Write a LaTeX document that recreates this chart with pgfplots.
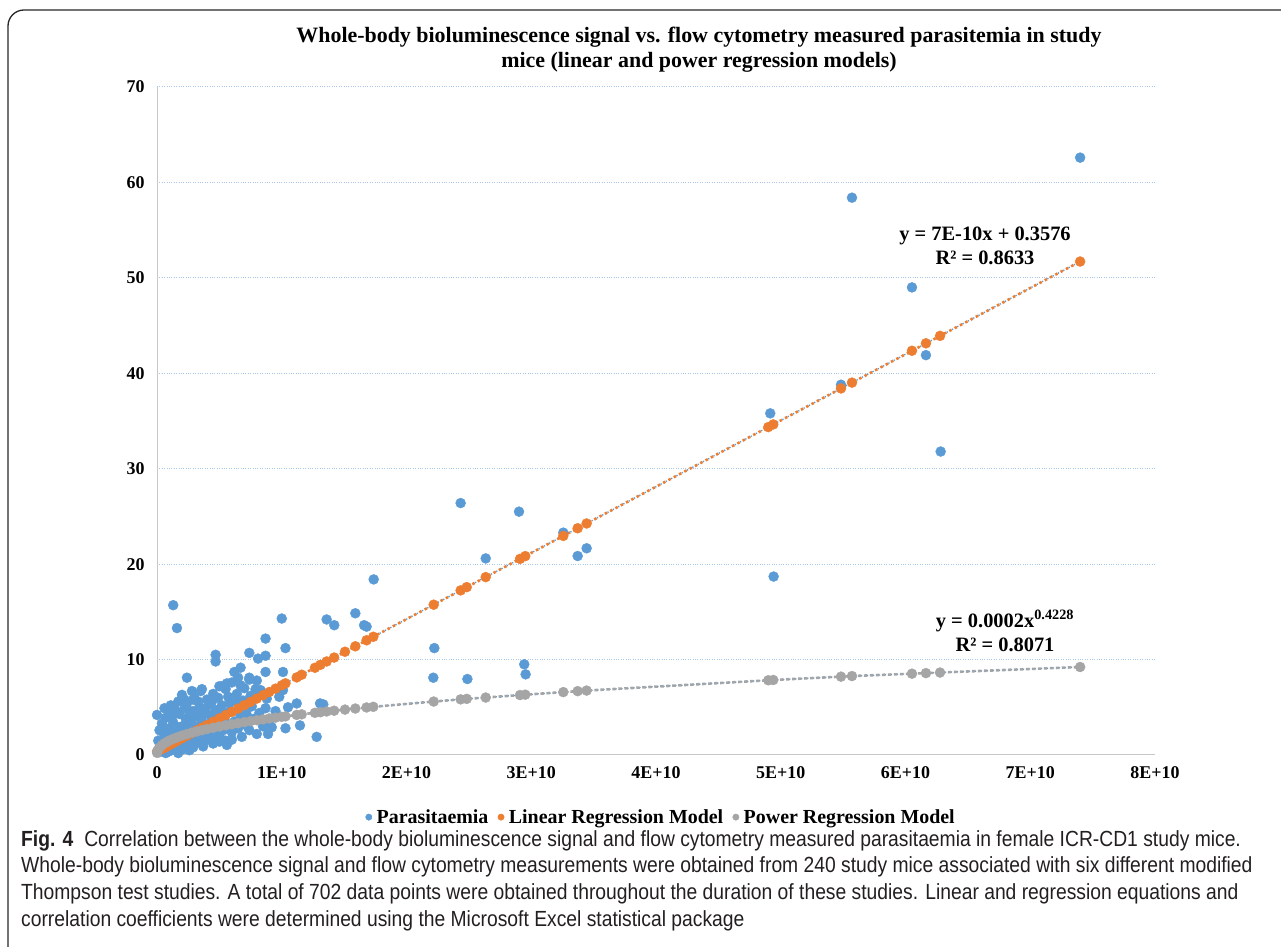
\documentclass[border=0pt]{standalone}
\usepackage{fontspec}
\setmainfont{Liberation Serif}
\newfontfamily\capfont[FakeStretch=0.88]{Liberation Sans}
\usepackage{pgfplots}
\usepackage{pgfplotstable}
\pgfplotsset{compat=1.18}

\definecolor{pblue}{HTML}{5B9BD5}
\definecolor{porange}{HTML}{ED7D31}
\definecolor{pgray}{HTML}{A5A5A5}
\definecolor{gridblue}{HTML}{A9C8E8}
\definecolor{axgray}{HTML}{C8C8C8}
\definecolor{captext}{HTML}{231F20}

% measured parasitaemia (flow cytometry) vs whole-body signal
\pgfplotstableread{
x y
7.40e10 62.6
5.571e10 58.4
6.052e10 49.0
6.164e10 41.9
5.483e10 38.8
6.282e10 31.8
4.916e10 35.8
4.943e10 18.7
2.434e10 26.4
2.902e10 25.5
3.257e10 23.3
3.372e10 20.85
3.444e10 21.66
2.635e10 20.6
1.737e10 18.4
1.36e10 14.2
1.421e10 13.6
1.59e10 14.85
1.68e10 13.45
1.66e10 13.6
2.223e10 11.2
2.215e10 8.1
2.488e10 7.96
2.944e10 9.5
2.955e10 8.45
1.28e10 1.9
1.307e10 5.4
1.146e10 3.1
1.12e10 5.4
1.333e10 5.3
1.0e10 14.3
0.87e10 12.2
1.03e10 11.2
0.13e10 15.7
0.16e10 13.3
0.47e10 10.5
0.47e10 9.8
0.74e10 10.7
0.81e10 10.1
0.87e10 10.4
0.62e10 8.7
0.67e10 9.15
0.24e10 8.1
0.74e10 8.1
0.87e10 8.7
1.01e10 8.7
0.67e10 7.3
0.52e10 7.2
0.56e10 7.5
0.28e10 6.7
0.36e10 6.9
0.79e10 6.9
0.83e10 6.8
1.01e10 6.8
0.57e10 6.1
0.98e10 6.1
0.74e10 7.9
0.87e10 4.9
0.89e10 2.2
0.92e10 2.9
1.03e10 2.8
0.56e10 1.05
0.6e10 1.6
0.0 4.2
0.06e10 4.9
0.22e10 4.9
0.33e10 4.0
0.29e10 5.8
0.22e10 5.8
0.17e10 0.2
0.26e10 0.5
0.02e10 0.3
0.03e10 0.8
0.05e10 1.2
0.04e10 0.5
0.06e10 2.1
0.08e10 1.6
0.1e10 0.4
0.1e10 2.8
0.12e10 1.9
0.13e10 3.4
0.15e10 0.9
0.16e10 2.4
0.18e10 4.3
0.19e10 1.4
0.2e10 3.0
0.21e10 0.6
0.22e10 2.2
0.23e10 3.8
0.24e10 1.1
0.25e10 2.7
0.26e10 4.6
0.27e10 1.7
0.28e10 3.3
0.29e10 0.8
0.3e10 2.5
0.31e10 4.1
0.32e10 1.3
0.33e10 3.0
0.34e10 5.0
0.35e10 2.0
0.36e10 3.6
0.37e10 0.9
0.38e10 2.8
0.39e10 4.4
0.4e10 1.6
0.41e10 3.2
0.42e10 5.3
0.43e10 2.3
0.44e10 3.9
0.45e10 1.2
0.46e10 2.9
0.47e10 4.7
0.48e10 3.4
0.5e10 2.1
0.51e10 4.0
0.52e10 5.2
0.53e10 2.6
0.54e10 3.7
0.55e10 1.5
0.56e10 3.0
0.58e10 4.5
0.6e10 2.4
0.62e10 3.5
0.63e10 5.6
0.65e10 2.8
0.67e10 4.1
0.68e10 1.9
0.7e10 3.2
0.72e10 4.8
0.74e10 2.6
0.76e10 5.1
0.78e10 3.8
0.8e10 2.2
0.82e10 4.4
0.85e10 3.0
0.88e10 5.9
0.9e10 3.6
0.95e10 4.6
1.05e10 5.0
0.07e10 3.9
0.09e10 4.6
0.11e10 5.2
0.14e10 4.9
0.17e10 5.6
0.2e10 6.3
0.24e10 5.4
0.3e10 6.0
0.35e10 6.7
0.4e10 5.8
0.45e10 6.4
0.5e10 7.2
0.55e10 6.9
0.6e10 7.6
0.65e10 8.1
0.7e10 7.0
0.75e10 6.2
0.8e10 7.8
0.01e10 1.5
0.02e10 2.6
0.04e10 3.3
0.07e10 0.2
0.09e10 1.0
0.11e10 2.3
0.14e10 1.7
0.16e10 0.6
0.18e10 2.9
0.2e10 1.2
0.23e10 2.6
0.27e10 3.6
0.31e10 1.9
0.34e10 2.7
0.38e10 1.6
0.42e10 2.1
0.46e10 1.8
0.5e10 1.4
0.05e10 2.9
0.12e10 4.0
0.26e10 3.1
0.29e10 4.6
0.33e10 5.6
0.37e10 4.8
0.41e10 4.3
0.44e10 5.6
0.49e10 6.0
0.53e10 4.4
0.58e10 5.4
0.64e10 6.4
0.69e10 5.7
0.72e10 4.2
}\parasit

% linear regression model values
\pgfplotstableread{
x y
0 0.36
0.01e10 0.43
0.02e10 0.50
0.04e10 0.64
0.06e10 0.77
0.08e10 0.91
0.1e10 1.05
0.13e10 1.26
0.16e10 1.47
0.2e10 1.75
0.24e10 2.02
0.28e10 2.30
0.32e10 2.58
0.36e10 2.86
0.4e10 3.13
0.45e10 3.48
0.5e10 3.83
0.55e10 4.17
0.6e10 4.52
0.65e10 4.87
0.7e10 5.22
0.75e10 5.56
0.8e10 5.91
0.85e10 6.26
0.9e10 6.60
0.95e10 6.95
1.0e10 7.30
1.03e10 7.51
1.12e10 8.13
1.16e10 8.41
1.266e10 9.14
1.31e10 9.45
1.36e10 9.80
1.42e10 10.21
1.507e10 10.82
1.59e10 11.39
1.68e10 12.02
1.734e10 12.39
2.218e10 15.75
2.434e10 17.25
2.483e10 17.59
2.635e10 18.64
2.91e10 20.55
2.952e10 20.84
3.257e10 22.96
3.372e10 23.76
3.444e10 24.26
4.90e10 34.36
4.94e10 34.64
5.483e10 38.41
5.571e10 39.02
6.052e10 42.36
6.164e10 43.14
6.277e10 43.92
7.40e10 51.71
}\linmodel

% power regression model values
\pgfplotstableread{
x y
0.001e10 0.22
0.005e10 0.43
0.01e10 0.57
0.02e10 0.77
0.04e10 1.03
0.06e10 1.22
0.08e10 1.37
0.1e10 1.51
0.13e10 1.69
0.16e10 1.84
0.2e10 2.03
0.24e10 2.19
0.28e10 2.34
0.32e10 2.47
0.36e10 2.60
0.4e10 2.72
0.45e10 2.85
0.5e10 2.98
0.55e10 3.11
0.6e10 3.22
0.65e10 3.33
0.7e10 3.44
0.75e10 3.54
0.8e10 3.64
0.85e10 3.73
0.9e10 3.83
0.95e10 3.91
1.0e10 4.00
1.03e10 4.05
1.12e10 4.20
1.16e10 4.26
1.266e10 4.42
1.31e10 4.48
1.36e10 4.56
1.42e10 4.64
1.507e10 4.76
1.59e10 4.87
1.68e10 4.98
1.734e10 5.05
2.218e10 5.60
2.434e10 5.83
2.483e10 5.88
2.635e10 6.02
2.91e10 6.28
2.952e10 6.32
3.257e10 6.59
3.372e10 6.69
3.444e10 6.75
4.90e10 7.83
4.94e10 7.86
5.483e10 8.21
5.571e10 8.27
6.052e10 8.52
6.164e10 8.58
6.277e10 8.64
7.40e10 9.22
}\powmodel

\begin{document}
\begin{tikzpicture}[x=1bp,y=1bp]
\useasboundingbox (0,0) rectangle (1281,947);
\draw[line width=1.3bp, black!85, rounded corners=16bp] (1300,937) -- (8,937) -- (8,-20);

\node[align=center, font=\bfseries\fontsize{22}{25}\selectfont] at (699,897)
  {Whole-body bioluminescence signal vs. flow cytometry measured parasitemia in study\\
   mice (linear and power regression models)};

\begin{axis}[
  at={(157bp,192bp)}, anchor=south west,
  width=998bp, height=668bp, scale only axis,
  xmin=0, xmax=8e10, ymin=0, ymax=70,
  axis lines*=left,
  axis line style={draw=axgray, line width=1bp},
  xtick={0,1e10,2e10,3e10,4e10,5e10,6e10,7e10,8e10},
  xticklabels={0,1E+10,2E+10,3E+10,4E+10,5E+10,6E+10,7E+10,8E+10},
  scaled x ticks=false,
  ytick={0,10,20,30,40,50,60,70},
  ymajorgrids,
  major grid style={draw=gridblue, dotted, line width=1bp},
  major tick length=0pt,
  /pgf/number format/assume math mode=true,
  ticklabel style={font=\bfseries\fontsize{18}{18}\selectfont},
  yticklabel style={xshift=-9bp},
  xticklabel style={yshift=-8bp},
  clip=false,
  legend style={at={(rel axis cs:0.505,-0.093)}, anchor=center, draw=none, fill=none,
    font=\bfseries\fontsize{20}{20}\selectfont,
    nodes={inner xsep=2bp},
    /tikz/every even column/.append style={column sep=7bp}},
  legend columns=3,
  legend cell align=left,
  legend image code/.code={\draw[#1, mark size=3.2bp] plot coordinates {(0cm,0cm)};
    \path (-0.12cm,0) (0.2cm,0);},
]
\addplot[only marks, mark=*, color=pblue, mark size=5bp] table[x=x,y=y] {\parasit};
\addlegendentry{Parasitaemia}
\addplot[only marks, mark=*, color=porange, mark size=5bp] table[x=x,y=y] {\linmodel};
\addlegendentry{Linear Regression Model}
\addplot[only marks, mark=*, color=pgray, mark size=5bp] table[x=x,y=y] {\powmodel};
\addlegendentry{Power Regression Model}
% trendlines
\addplot[forget plot, pblue, line width=1.3bp, dash pattern=on 1.3bp off 4.7bp] coordinates {(0,0.3576) (7.40e10,51.71)};
\addplot[forget plot, porange, line width=2.6bp, dash pattern=on 2.6bp off 3.4bp, dash phase=3bp] coordinates {(0,0.3576) (7.40e10,51.71)};
\addplot[forget plot, pblue, line width=1.3bp, dash pattern=on 1.3bp off 4.7bp] table[x=x,y=y] {\powmodel};
\addplot[forget plot, pgray, line width=2.6bp, dash pattern=on 3.5bp off 2.5bp, dash phase=3bp] table[x=x,y=y] {\powmodel};
\end{axis}

\node[font=\bfseries\fontsize{20.5}{24}\selectfont, align=center] at (985,701)
  {y = 7E-10x + 0.3576\\R² = 0.8633};
\node[font=\bfseries\fontsize{20.5}{24}\selectfont, align=center] at (1005,316)
  {y = 0.0002x\textsuperscript{0.4228}\\R² = 0.8071};

\node[anchor=north west, align=left, inner sep=0pt, text=captext,
      font=\capfont\fontsize{22}{27}\selectfont] at (21,117)
  {\textbf{Fig. 4}\enspace Correlation between the whole-body bioluminescence signal and flow cytometry measured parasitaemia in female ICR-CD1 study mice.\\
   Whole-body bioluminescence signal and flow cytometry measurements were obtained from 240 study mice associated with six different modified\\
   Thompson test studies. A total of 702 data points were obtained throughout the duration of these studies. Linear and regression equations and\\
   correlation coefficients were determined using the Microsoft Excel statistical package};
\end{tikzpicture}
\end{document}
